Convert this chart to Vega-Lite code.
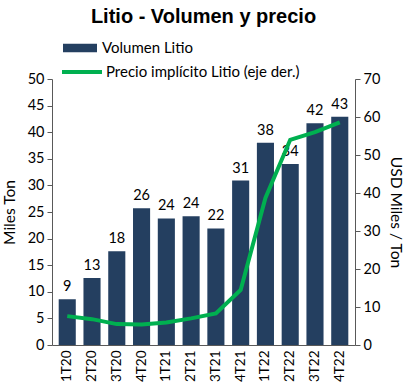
{
  "$schema": "https://vega.github.io/schema/vega-lite/v6.json",
  "width": 303,
  "height": 266,
  "autosize": {"type": "none"},
  "padding": {"left": 52, "top": 79, "right": 57, "bottom": 46},
  "background": "white",
  "title": {"text": "Litio - Volumen y precio", "font": "Liberation Sans", "fontSize": 20, "fontWeight": "bold", "color": "#000000", "anchor": "middle", "offset": 4},
  "config": {
    "view": {"stroke": null},
    "axis": {"labelFont": "Lato", "titleFont": "Lato", "labelColor": "#000000", "titleColor": "#000000", "domainColor": "#595959", "tickColor": "#595959", "grid": false, "labelFontSize": 14.5, "titleFontSize": 15.5, "titleFontWeight": "normal"},
    "legend": {"labelFont": "Lato", "labelFontSize": 15, "labelColor": "#000000", "labelLimit": 400}
  },
  "data": {"values": [
    {"q": "1T20", "vol": 8.6, "price": 7.6},
    {"q": "2T20", "vol": 12.6, "price": 6.8},
    {"q": "3T20", "vol": 17.6, "price": 5.5},
    {"q": "4T20", "vol": 25.7, "price": 5.4},
    {"q": "1T21", "vol": 23.8, "price": 5.9},
    {"q": "2T21", "vol": 24.2, "price": 7.0},
    {"q": "3T21", "vol": 21.9, "price": 8.3},
    {"q": "4T21", "vol": 30.9, "price": 14.5},
    {"q": "1T22", "vol": 38.0, "price": 38.7},
    {"q": "2T22", "vol": 34.0, "price": 54.0},
    {"q": "3T22", "vol": 41.7, "price": 56.0},
    {"q": "4T22", "vol": 42.9, "price": 58.6}
  ]},
  "encoding": {
    "x": {"field": "q", "type": "ordinal", "sort": null,
      "scale": {"paddingInner": 0.31, "paddingOuter": 0.27},
      "axis": {"title": null, "labelAngle": -90, "labelAlign": "right", "labelBaseline": "middle", "ticks": false, "labelPadding": 5, "labelFontSize": 13.5, "domainColor": "#595959"}}
  },
  "layer": [
    {
      "encoding": {
        "y": {"field": "vol", "type": "quantitative", "scale": {"domain": [0, 50]},
          "axis": {"title": "Miles Ton", "values": [0,5,10,15,20,25,30,35,40,45,50], "tickSize": 5, "titlePadding": 10, "labelPadding": 3}}
      },
      "layer": [
        {"mark": {"type": "bar"},
         "encoding": {"fill": {"datum": "Volumen Litio", "type": "nominal", "scale": {"range": ["#243F60"]},
           "legend": {"title": null, "orient": "none", "legendX": 11, "legendY": -48, "symbolType": "M-1,-0.25H1V0.25H-1Z", "symbolSize": 1156, "symbolStrokeWidth": 0, "labelOffset": 5}}}},
        {"mark": {"type": "text", "dy": -12, "font": "Lato", "fontSize": 14.5, "color": "#000000"},
         "encoding": {"text": {"field": "vol", "type": "quantitative", "format": ".0f"}}}
      ]
    },
    {
      "mark": {"type": "line", "strokeWidth": 4},
      "encoding": {
        "y": {"field": "price", "type": "quantitative", "scale": {"domain": [0, 70]},
          "axis": {"orient": "right", "title": "USD Miles / Ton", "values": [0,10,20,30,40,50,60,70], "tickSize": 5, "titlePadding": 8, "labelPadding": 3}},
        "stroke": {"datum": "Precio implícito Litio (eje der.)", "type": "nominal", "scale": {"range": ["#00B050"]},
          "legend": {"title": null, "orient": "none", "legendX": 8, "legendY": -29, "symbolType": "stroke", "symbolSize": 1600, "symbolStrokeWidth": 4, "labelOffset": 2}}
      }
    }
  ],
  "resolve": {"scale": {"y": "independent", "fill": "independent", "stroke": "independent"}}
}
